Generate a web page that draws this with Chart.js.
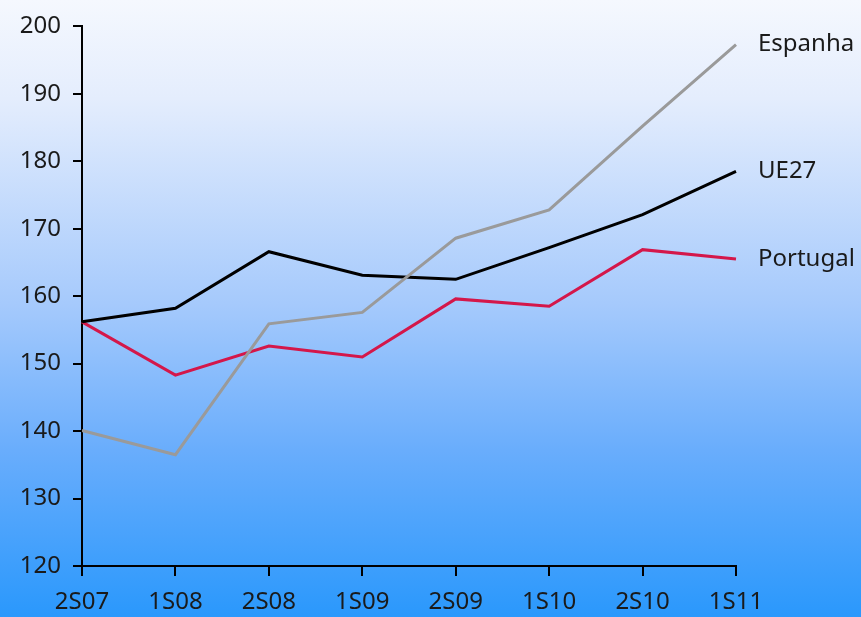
<!DOCTYPE html>
<html>
<head>
<meta charset="utf-8">
<script src="https://cdn.jsdelivr.net/npm/chart.js@4/dist/chart.umd.min.js"></script>
<style>
  html, body { margin: 0; padding: 0; }
  body {
    width: 861px; height: 617px; overflow: hidden;
    background: linear-gradient(to bottom, #f5f8fe 0%, #e4edfd 16%, #a6cafc 49%, #69adfc 73%, #2a98fc 100%);
  }
  #wrap { position: relative; width: 861px; height: 617px; }
</style>
</head>
<body>
<div id="wrap"><canvas id="chart" width="861" height="617"></canvas></div>
<script>
// dados
const periodos = ["2S07", "1S08", "2S08", "1S09", "2S09", "1S10", "2S10", "1S11"];
const espanha  = [140.1, 136.5, 155.9, 157.6, 168.6, 172.8, 185.2, 197.3];
const ue27     = [156.2, 158.2, 166.6, 163.1, 162.5, 167.2, 172.1, 178.5];
const portugal = [156.2, 148.3, 152.6, 151.0, 159.6, 158.5, 166.9, 165.5];
const yTicks   = [120, 130, 140, 150, 160, 170, 180, 190, 200];

const FONT = "'Noto Sans', 'Open Sans', sans-serif";
const TXT = "#1a1a1a";

// marcas dos eixos + rótulos no fim de cada linha
const extras = {
  id: "extras",
  afterDatasetsDraw(chart) {
    const ctx = chart.ctx;
    const xs = chart.scales.x, ys = chart.scales.y;
    const a = chart.chartArea;
    ctx.save();
    ctx.strokeStyle = "#000";
    ctx.lineWidth = 2;
    ctx.beginPath();
    yTicks.forEach(v => {
      const y = Math.round(ys.getPixelForValue(v));
      ctx.moveTo(a.left - 9, y); ctx.lineTo(a.left, y);
    });
    periodos.forEach((p, i) => {
      const x = Math.round(xs.getPixelForValue(i));
      ctx.moveTo(x, a.bottom); ctx.lineTo(x, a.bottom + 10);
    });
    ctx.stroke();

    ctx.font = "24px " + FONT;
    ctx.fillStyle = TXT;
    ctx.textBaseline = "middle";
    chart.data.datasets.forEach((ds, i) => {
      const pts = chart.getDatasetMeta(i).data;
      const last = pts[pts.length - 1];
      ctx.fillText(ds.label, last.x + 22, last.y);
    });
    ctx.restore();
  }
};

new Chart(document.getElementById("chart"), {
  type: "line",
  data: {
    labels: periodos,
    datasets: [
      { label: "Espanha",  data: espanha,  borderColor: "#9a9a9a", borderWidth: 3, pointRadius: 0, tension: 0 },
      { label: "UE27",     data: ue27,     borderColor: "#000000", borderWidth: 3, pointRadius: 0, tension: 0 },
      { label: "Portugal", data: portugal, borderColor: "#d4174a", borderWidth: 3, pointRadius: 0, tension: 0 }
    ]
  },
  options: {
    responsive: false,
    animation: false,
    layout: { padding: { left: 0, top: 24, right: 125, bottom: 0 } },
    plugins: { legend: { display: false }, tooltip: { enabled: false } },
    scales: {
      x: {
        offset: false,
        grid: { offset: false, drawOnChartArea: false, drawTicks: true, tickLength: 10, color: "#000", lineWidth: 2 },
        border: { display: true, color: "#000", width: 2 },
        ticks: { color: TXT, font: { family: FONT, size: 24 }, padding: 12, maxRotation: 0, autoSkip: false },
        afterFit: s => { s.height = 51; }
      },
      y: {
        min: 120, max: 200,
        afterBuildTicks: s => { s.ticks = yTicks.map(v => ({ value: v })); },
        grid: { drawOnChartArea: false, drawTicks: true, tickLength: 9, color: "#000", lineWidth: 2 },
        border: { display: true, color: "#000", width: 2 },
        ticks: { color: TXT, font: { family: FONT, size: 24 }, padding: 12 },
        afterFit: s => { s.width = 82; }
      }
    }
  },
  plugins: [extras]
});
</script>
</body>
</html>
